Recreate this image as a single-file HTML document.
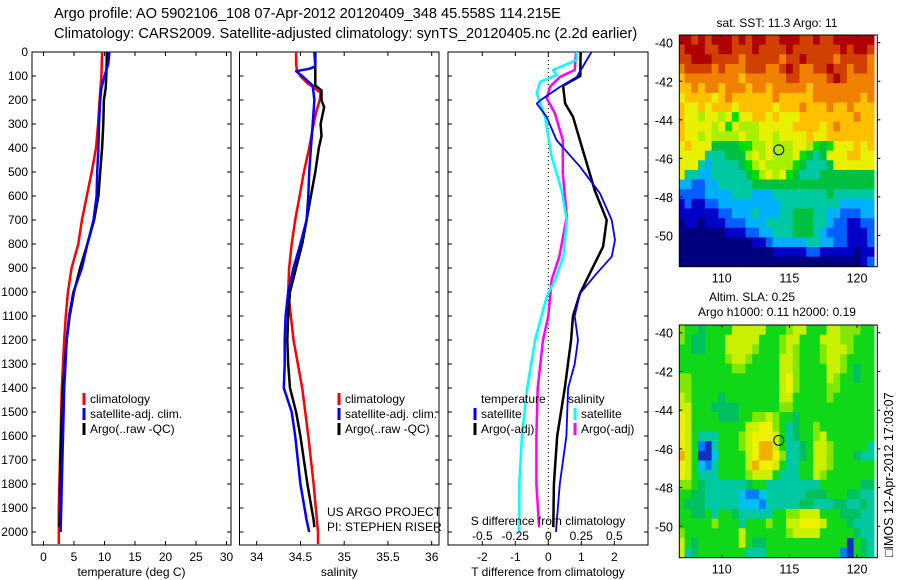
<!DOCTYPE html>
<html><head><meta charset="utf-8"><style>
html,body{margin:0;padding:0;background:#fff;}
svg{display:block;font-family:"Liberation Sans",sans-serif;}
</style></head><body>
<svg id="fig" width="900" height="580" viewBox="0 0 900 580" xmlns="http://www.w3.org/2000/svg">
<rect width="900" height="580" fill="#fff"/>
<text x="54" y="18" font-size="14.6">Argo profile: AO 5902106_108 07-Apr-2012 20120409_348 45.558S 114.215E</text>
<text x="54" y="38" font-size="14.6">Climatology: CARS2009. Satellite-adjusted climatology: synTS_20120405.nc (2.2d earlier)</text>
<g id="plots"></g>
</svg>
<script>
// ---------- data ----------
const depthTicks=[0,100,200,300,400,500,600,700,800,900,1000,1100,1200,1300,1400,1500,1600,1700,1800,1900,2000];
const tempTicks=[0,5,10,15,20,25,30];
const salTicks=[34,34.5,35,35.5,36];
const tdiffTicks=[-2,-1,0,1,2];
const sdiffTicks=[-0.5,-0.25,0,0.25,0.5];
// temperature panel
const climTDepth=[0,100,200,300,400,500,600,700,800,900,1000,1100,1200,1300,1400,1500,1600,1700,1800,1900,2000,2050];
const climTVal=[9.6,9.5,9.2,8.95,8.6,7.9,7.1,6.3,5.7,4.6,4.0,3.65,3.4,3.2,3.0,2.9,2.8,2.7,2.6,2.5,2.5,2.5];
const argoTDepth=[0,100,150,200,300,400,500,600,700,800,900,1000,1100,1200,1300,1400,1500,1600,1700,1800,1900,1980];
const argoTVal=[10.4,10.3,10.2,9.9,9.8,9.6,9.3,9.0,8.3,7.2,6.0,5.0,4.3,3.8,3.5,3.2,3.0,2.9,2.8,2.7,2.7,2.6];
const satTDepth=[0,50,100,150,200,300,400,500,600,700,800,900,1000,1100,1200,1300,1400,1500,1600,1700,1800,1900,2000];
const satTVal=[10.8,10.6,10.0,9.5,9.3,9.1,9.0,8.8,8.7,8.2,7.2,6.3,4.9,4.2,3.8,3.6,3.4,3.3,3.2,3.1,3.0,2.9,2.8];
// salinity panel
const climSDepth=[0,50,80,100,130,150,170,200,250,300,400,500,600,700,800,900,1000,1200,1400,1600,1800,2000,2050];
const climSVal=[34.45,34.45,34.46,34.50,34.58,34.66,34.73,34.72,34.68,34.65,34.60,34.54,34.49,34.44,34.40,34.37,34.36,34.42,34.52,34.59,34.65,34.70,34.70];
const satSDepth=[0,60,70,80,100,140,200,300,400,500,600,700,800,900,1000,1100,1200,1300,1400,1500,1600,1800,1950,2000];
const satSVal=[34.66,34.67,34.60,34.45,34.52,34.64,34.66,34.64,34.62,34.60,34.59,34.57,34.50,34.42,34.36,34.33,34.32,34.32,34.31,34.40,34.44,34.50,34.57,34.60];
const argoSDepth=[0,140,160,200,230,300,350,400,500,600,700,800,900,1000,1100,1200,1300,1400,1500,1600,1800,1950,1980];
const argoSVal=[34.67,34.67,34.74,34.74,34.77,34.73,34.74,34.71,34.67,34.62,34.57,34.52,34.45,34.38,34.36,34.35,34.36,34.38,34.45,34.50,34.58,34.65,34.66];
// difference panel
const dArgoTDepth=[0,100,140,214,270,410,577,700,811,894,1006,1100,1200,1400,1600,1800,1980];
const dArgoTVal=[0.98,0.97,0.45,0.51,0.75,1.05,1.41,1.77,1.66,1.36,0.96,0.75,0.69,0.5,0.27,0.17,0.15];
const dSatTDepth=[0,104,146,202,215,270,367,478,590,700,783,853,922,1006,1100,1200,1300,1400,1600,1800,2000];
const dSatTVal=[1.31,0.86,0.35,-0.25,-0.35,-0.05,0.25,0.96,1.57,1.92,2.02,1.92,1.47,0.96,0.8,0.9,0.8,0.6,0.55,0.35,0.23];
const dSatSDepth=[0,33,75,96,124,172,270,436,575,700,853,950,1019,1200,1400,1600,1800,2000];
const dSatSVal=[0.215,0.215,0.036,0.064,-0.063,-0.088,-0.025,0.025,0.1,0.14,0.114,0.051,-0.012,-0.1,-0.16,-0.2,-0.22,-0.22];
const dArgoSDepth=[0,75,103,144,193,256,367,506,686,853,950,1100,1200,1400,1600,1800,1980];
const dArgoSVal=[0.21,0.2,0.09,0.013,-0.012,0.05,0.11,0.11,0.14,0.083,0.025,0.0,-0.04,-0.08,-0.09,-0.09,-0.07];
// maps: rows from lat -39.6 southward by 0.5 deg, columns from lon 107 eastward by 0.5 deg
const sstRows=["ccbcbcccbcbccbbcccbbcbbcccccc","bcccbbccbbbcbbbbcbbbbbbbcbccb","bbcccbbbbabbbbbabbcbbbbabbbba","abbbbabaaabbbaabcbaabbcbbabba","9aaaaaaaa9aaaaaabbaaaabcbaaaa","99a9aa9aaa9aa9aaaaa9aaaaaaaaa","8999989a999999a99999aaaaaaa9a","988989998999998999a999a99a999","98878878688998988899999999a99","98888786877788888999989a99999","98878777787788788889889999999","89888555566778777887656888989","88884445557878777865458889988","88843444456787777654445888888","84433444445678786544455555555","33223344444555555555555555555","22223333444333444444445444444","12112233333333344444444433333","11111122333433344555443322233","01101112223334444555443221122","00000001112233444555432221112","00000000000112333334433221112","00000000000000111112211111011","00000000000000000000000000012"];
const slaRows=["65545555777775556775557766655","65445557777755567755577766555","55445557777655567655567776555","55555556776555577655567765555","55555555665555577655557765455","66555555555555578655557655455","66555555555555578655556655555","76555545555555577555556555555","77555444455555566555555555555","87555544455667655455555555555","87555555557788653455655555555","87533355567888753455675555555","87510355567899753345776555553","97500255557899863345776555433","87521355557988753355776555555","87533355556777533355765555555","66543333334553333333355555544","55443333321123333334445554433","54443333322213333344333443343","55445355433333556677755544433","55555655535556557788875554333","65555555575555556777755555433","75455555575445555555555550543","73455555553335555555555510543"];
const sstColors={"0":"#00007f","1":"#0000c8","2":"#0060ff","3":"#00b0ff","4":"#00c8a0","5":"#00c040","6":"#00e000","7":"#a8f000","8":"#e8f000","9":"#ffc000","a":"#f08000","b":"#d04000","c":"#b00000"};
const slaColors={"0":"#1030c0","1":"#0080ff","2":"#00c0f0","3":"#00c8a0","4":"#00c060","5":"#10d818","6":"#80e800","7":"#c8f000","8":"#f0f000","9":"#f0b000"};
const mapLatTicks=[-40,-42,-44,-46,-48,-50];
const mapLonTicks=[110,115,120];
const argoLon=114.215, argoLat=-45.558;

// ---------- helpers ----------
const NS="http://www.w3.org/2000/svg";
const root=document.getElementById('plots');
function mk(tag,attrs,parent){const e=document.createElementNS(NS,tag);for(const k in attrs)e.setAttribute(k,attrs[k]);(parent||root).appendChild(e);return e;}
function txt(s,x,y,anchor,size,parent){const t=mk('text',{x:x,y:y,'text-anchor':anchor||'start','font-size':size||12},parent);t.textContent=s;return t;}

const Y0=52, YS=0.24;
const yD=d=>Y0+d*YS;
const PT=545;
const panels=[
 {name:'temperature-panel',x0:32,x1:231,fx:v=>43.5+6.1*v,ticks:tempTicks,label:'temperature (deg C)'},
 {name:'salinity-panel',x0:239.5,x1:439,fx:v=>256.7+87.5*(v-34),ticks:salTicks,label:'salinity'},
 {name:'difference-panel',x0:448,x1:648,fx:v=>548.3+33*v,ticks:tdiffTicks,label:'T difference from climatology'}
];
const fS=v=>548.3+132*v;

panels.forEach((p,i)=>{
 const g=mk('g',{});
 
 
 const cp=mk('clipPath',{id:'clip'+i},g);
 mk('rect',{x:p.x0,y:Y0,width:p.x1-p.x0,height:PT-Y0},cp);
 const frame=mk('rect',{x:p.x0,y:Y0,width:p.x1-p.x0,height:PT-Y0,fill:'none',stroke:'#000','stroke-width':1},g);
 
 
 p.ticks.forEach(v=>{
  const x=p.fx(v);
  mk('line',{x1:x,y1:Y0,x2:x,y2:Y0+4,stroke:'#000'},g);
  mk('line',{x1:x,y1:PT,x2:x,y2:PT-4,stroke:'#000'},g);
  const t=txt(String(v),x,PT+16,'middle',12,g);
  
  
 });
 depthTicks.forEach(d=>{
  const y=yD(d);
  mk('line',{x1:p.x0,y1:y,x2:p.x0+4,y2:y,stroke:'#000'},g);
  mk('line',{x1:p.x1,y1:y,x2:p.x1-4,y2:y,stroke:'#000'},g);
  if(i===0){const t=txt(String(d),28,y+4,'end',12,g);
   
   }
 });
 const xl=txt(p.label,(p.x0+p.x1)/2,PT+31,'middle',12,g);
 
 
 p.g=g;
});

function line(p,depths,vals,fx,color,w,name){
 const pts=depths.map((d,k)=>fx(vals[k]).toFixed(1)+','+yD(d).toFixed(1)).join(' ');
 const pl=mk('polyline',{points:pts,fill:'none',stroke:color,'stroke-width':w,'clip-path':'url(#clip'+p+')','stroke-linejoin':'round'},panels[p].g);
 
 
}
line(0,climTDepth,climTVal,panels[0].fx,'#ff0000',2.5,'climatology-temperature-line');
line(0,argoTDepth,argoTVal,panels[0].fx,'#000',2.5,'argo-temperature-line');
line(0,satTDepth,satTVal,panels[0].fx,'#0000ff',2.5,'satellite-temperature-line');
line(1,climSDepth,climSVal,panels[1].fx,'#ff0000',2.5,'climatology-salinity-line');
line(1,argoSDepth,argoSVal,panels[1].fx,'#000',2.5,'argo-salinity-line');
line(1,satSDepth,satSVal,panels[1].fx,'#0000ff',2.5,'satellite-salinity-line');
const zl=mk('line',{x1:fS(0),y1:Y0,x2:fS(0),y2:PT,stroke:'#000','stroke-dasharray':'1,3'},panels[2].g);


line(2,dArgoSDepth,dArgoSVal,fS,'#ff00ff',2.5,'argo-salinity-diff-line');
line(2,dSatSDepth,dSatSVal,fS,'#00ffff',2.5,'satellite-salinity-diff-line');
line(2,dArgoTDepth,dArgoTVal,panels[2].fx,'#000',2.5,'argo-temperature-diff-line');
line(2,dSatTDepth,dSatTVal,panels[2].fx,'#0000ff',1.8,'satellite-temperature-diff-line');
sdiffTicks.forEach(v=>{const t=txt(String(v),fS(v),PT-5,'middle',12,panels[2].g);
 
 });
{const t=txt('S difference from climatology',548,PT-20,'middle',12,panels[2].g);
 
 }

function legend(p,x,y,items,tx){
 const g=mk('g',{},panels[p].g);
 
 
 items.forEach((it,k)=>{
  const yy=y+k*15;
  if(it[0]){mk('line',{x1:x,y1:yy-10,x2:x,y2:yy+2,stroke:it[0],'stroke-width':3},g);}
  const t=txt(it[1],(k===0&&tx)?tx:x+6,yy,'start',12,g);
  
  
 });
}
legend(0,84,403,[['#ff0000','climatology'],['#0000ff','satellite-adj. clim.'],['#000','Argo(..raw -QC)']]);
legend(1,339,403,[['#ff0000','climatology'],['#0000ff','satellite-adj. clim.'],['#000','Argo(..raw -QC)']]);
legend(2,475,403,[[null,'temperature'],['#0000ff','satellite'],['#000','Argo(-adj)']],481);
legend(2,575,403,[[null,'salinity'],['#00ffff','satellite'],['#ff00ff','Argo(-adj)']],568);
{const t1=txt('US ARGO PROJECT',327,516,'start',12,panels[1].g);
 
 
 const t2=txt('PI: STEPHEN RISER',327,531,'start',12,panels[1].g);
 
 }

// ---------- maps ----------
function map(name,top,bottom,rows,colors,titles){
 const L=679.3,R=877.3,lonL=106.86,lonR=121.5,latT=-39.6;
 const latB=-51.62;
 const fx=lon=>L+(lon-lonL)*(R-L)/(lonR-lonL);
 const fy=lat=>top+(latT-lat)*(bottom-top)/(latT-latB);
 const g=mk('g',{});
 
 
 const cid='clip'+name;
 const cp=mk('clipPath',{id:cid},g);
 mk('rect',{x:L,y:top,width:R-L-2,height:bottom-top},cp);
 const cells=mk('g',{'clip-path':'url(#'+cid+')'},g);
 rows.forEach((row,j)=>{
  for(let i=0;i<29;i++){
   const c=row[Math.min(i,row.length-1)];
   const lon0=106.75+0.5*i, lat0=latT-0.5*j;
   const x0=i===0?L:fx(lon0), x1=fx(lon0+0.5);
   const y0=fy(lat0), y1=fy(lat0-0.5);
   const r=mk('rect',{x:x0.toFixed(2),y:y0.toFixed(2),width:(x1-x0+0.6).toFixed(2),height:(y1-y0+0.6).toFixed(2),fill:colors[c]},cells);
   
   
  }
 });
 const fr=mk('rect',{x:L,y:top,width:R-L,height:bottom-top,fill:'none',stroke:'#000'},g);
 
 
 mapLatTicks.forEach(lat=>{const y=fy(lat);
  mk('line',{x1:L,y1:y,x2:L+3,y2:y,stroke:'#000'},g);
  mk('line',{x1:R,y1:y,x2:R+3,y2:y,stroke:'#000'},g);
  const t=txt(String(lat),673,y+5,'end',12.5,g);
  
  });
 mapLonTicks.forEach(lon=>{const x=fx(lon);
  mk('line',{x1:x,y1:top,x2:x,y2:top+3,stroke:'#000'},g);
  mk('line',{x1:x,y1:bottom,x2:x,y2:bottom-3,stroke:'#000'},g);
  const t=txt(String(lon),x,bottom+16,'middle',12.5,g);
  
  });
 const c=mk('circle',{cx:fx(argoLon),cy:fy(argoLat),r:5,fill:'none',stroke:'#000','stroke-width':1},g);
 
 
 titles.forEach(tt=>{const t=txt(tt[0],tt[1],tt[2],'middle',12,g);
  
  });
}
map('sst-map',35,266.7,sstRows,sstColors,[['sat. SST: 11.3 Argo: 11',777,27]]);
map('sla-map',325,557.7,slaRows,slaColors,[['Altim. SLA: 0.25',752,301],['Argo h1000: 0.11 h2000: 0.19',777,316]]);
{const t=mk('text',{x:0,y:0,'font-size':12.5,transform:'translate(893,557) rotate(-90)'});
 t.textContent='\u25A1IMOS 12-Apr-2012 17:03:07';
 
 }
</script>
</body></html>
